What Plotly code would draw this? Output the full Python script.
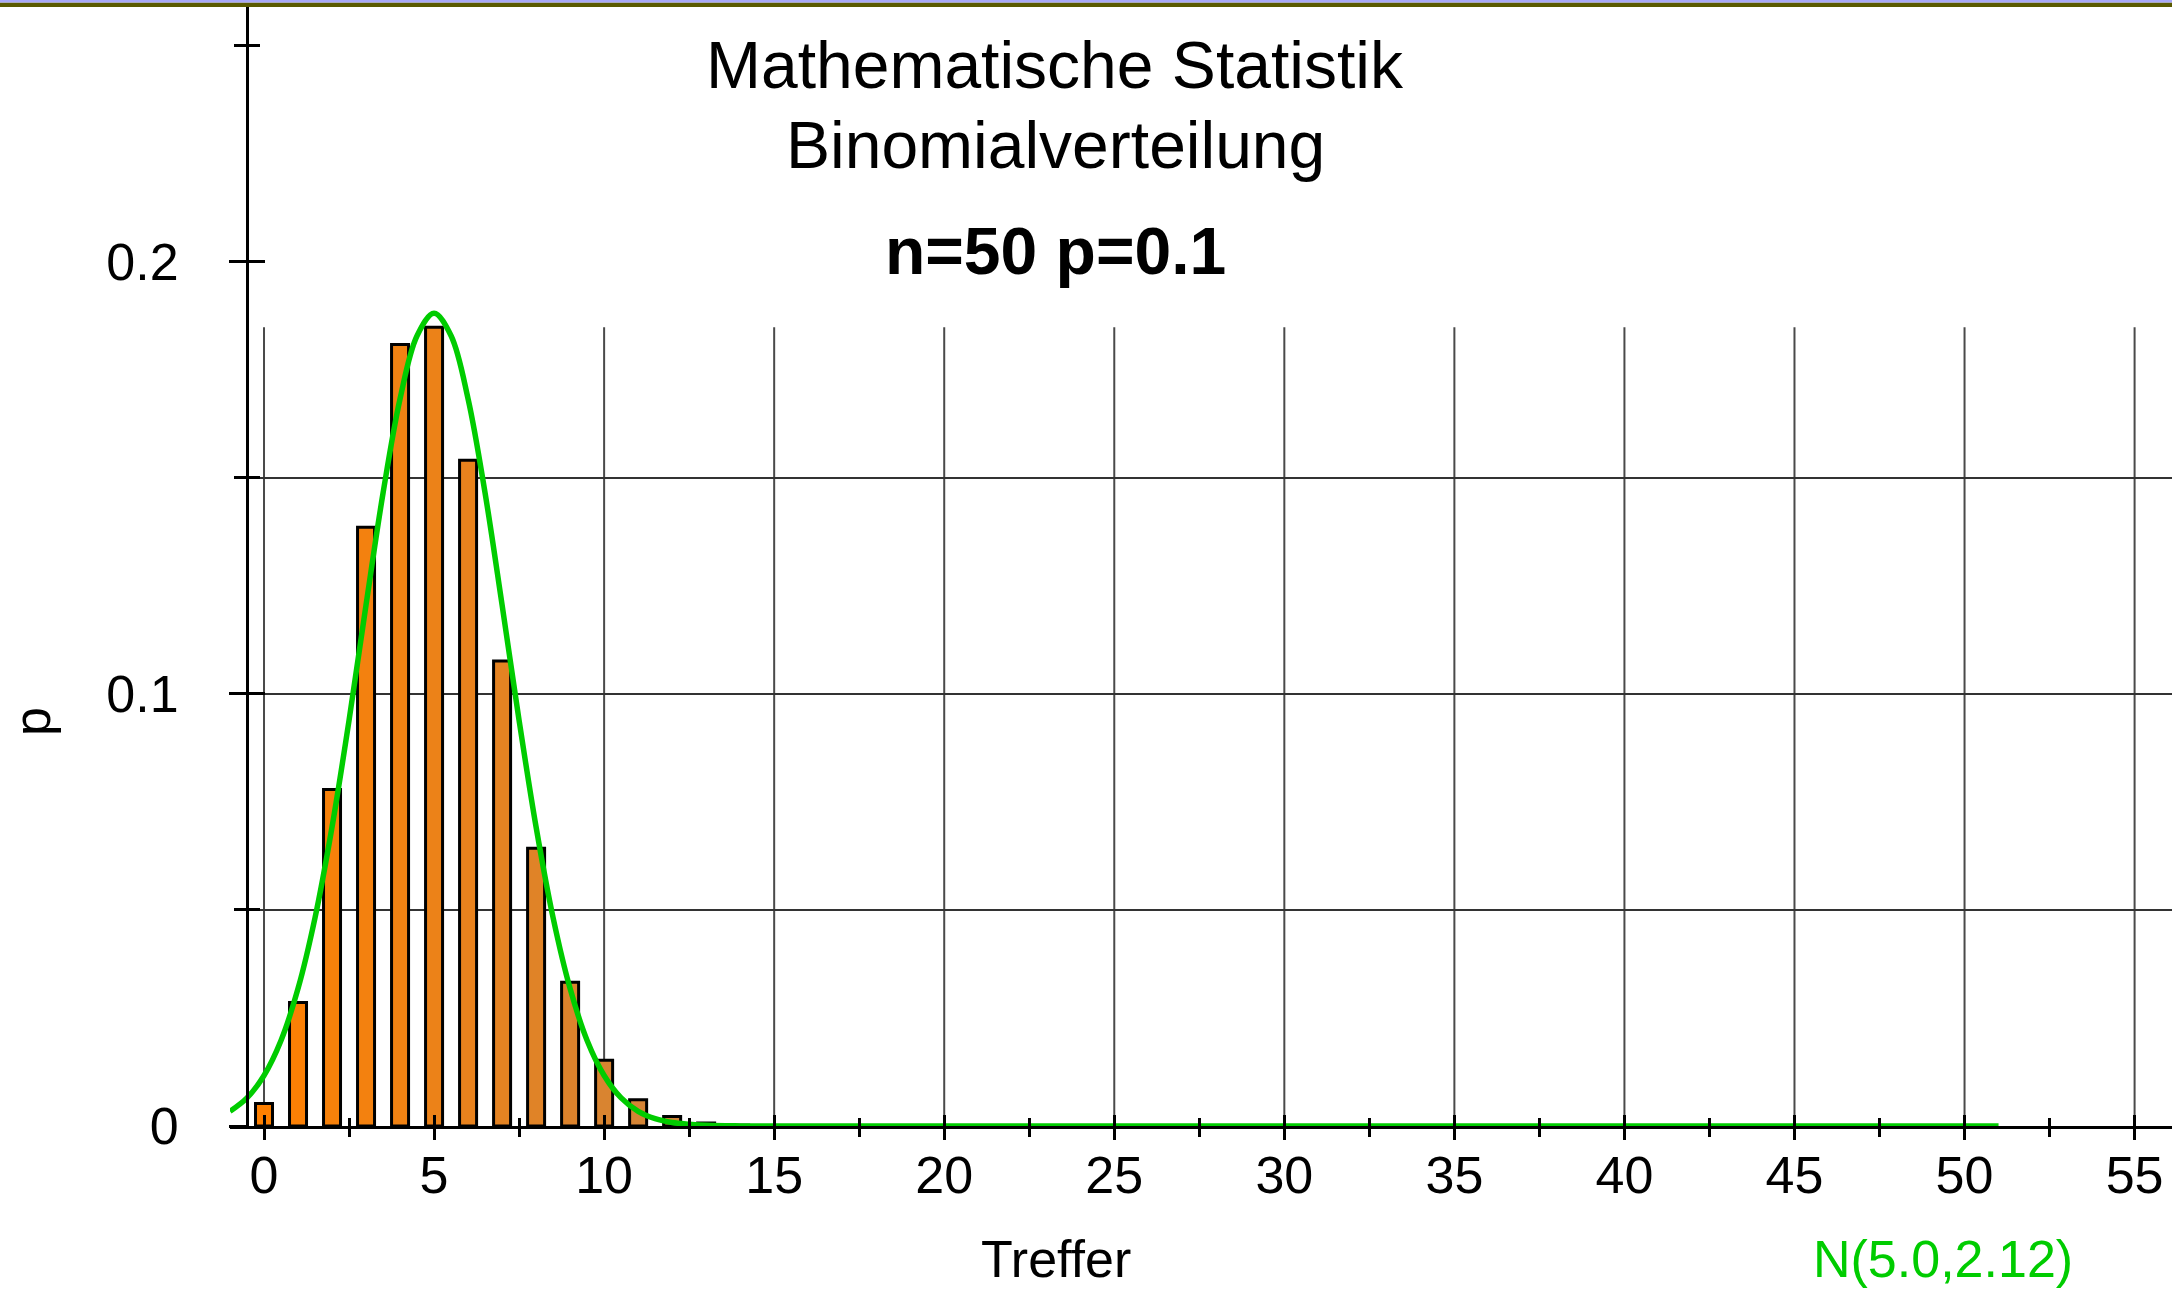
import plotly.graph_objects as go

# ---------------- data ----------------
treffer = list(range(0, 16))
wahrscheinlichkeit = [0.0052, 0.0286, 0.0779, 0.1386, 0.1809, 0.1849, 0.1541, 0.1076,
                      0.0643, 0.0333, 0.0152, 0.0061, 0.0022, 0.0007, 0.0002, 0.0001]

kurve_x = [-1, -0.5, 0, 0.5, 1, 1.5, 2, 2.5, 3, 3.5, 4, 4.5, 5, 5.5, 6, 6.5, 7, 7.5,
           8, 8.5, 9, 9.5, 10, 10.5, 11, 11.5, 12, 12.5, 13, 14, 15, 51]
kurve_y = [0.0034, 0.0065, 0.0117, 0.0198, 0.0318, 0.0482, 0.0692, 0.0939, 0.1206,
           0.1465, 0.1683, 0.1829, 0.1881, 0.1829, 0.1683, 0.1465, 0.1206, 0.0939,
           0.0692, 0.0482, 0.0318, 0.0198, 0.0117, 0.0065, 0.0034, 0.0017, 0.0008,
           0.0004, 0.00015, 0.00002, 0.0, 0.0]

x_tick_values = [0, 5, 10, 15, 20, 25, 30, 35, 40, 45, 50, 55]
x_tick_labels = ["0", "5", "10", "15", "20", "25", "30", "35", "40", "45", "50", "55"]
x_minor_values = [2.5, 7.5, 12.5, 17.5, 22.5, 27.5, 32.5, 37.5, 42.5, 47.5, 52.5]
y_tick_values = [0, 0.1, 0.2]
y_tick_labels = ["0", "0.1", "0.2"]
y_minor_values = [0.05, 0.15, 0.25]
y_grid_values = [0.05, 0.1, 0.15]

titel1 = "Mathematische Statistik"
titel2 = "Binomialverteilung"
titel3 = "n=50 p=0.1"
x_titel = "Treffer"
y_titel = "p"
legende = "N(5.0,2.12)"

# ---------------- style ----------------
W, H = 2172, 1291
ML, MR, MT, MB = 230, 0, 7, 165
XR = [-1, 56.1]
YR = [0, 0.259]
YAXIS_X = -0.5
FONT = "Liberation Sans, Arial, sans-serif"
GREEN = "#00CC00"

def bar_color(i, n=13):
    t = min(i / n, 1.0)
    c0 = (255, 128, 0)
    c1 = (205, 133, 63)
    r, g, b = (round(c0[j] + (c1[j] - c0[j]) * t) for j in range(3))
    return f"rgb({r},{g},{b})"

colors = [bar_color(i) for i in range(len(treffer))]

fig = go.Figure()
fig.add_trace(go.Bar(x=treffer, y=wahrscheinlichkeit, width=0.5,
                     marker=dict(color=colors, line=dict(color="black", width=3)),
                     showlegend=False, hoverinfo="skip"))
fig.add_trace(go.Scatter(x=kurve_x, y=kurve_y, mode="lines",
                         line=dict(color=GREEN, width=5.5, shape="spline", smoothing=1.0),
                         showlegend=False, hoverinfo="skip"))
# dummy trace for overlay axes (crossing ticks)
fig.add_trace(go.Scatter(x=[None], y=[None], xaxis="x2", yaxis="y2",
                         showlegend=False, hoverinfo="skip"))

plot_w = W - ML - MR
pos_y = (YAXIS_X - XR[0]) / (XR[1] - XR[0])

fig.update_layout(
    width=W, height=H,
    margin=dict(l=ML, r=MR, t=MT, b=MB, pad=0),
    paper_bgcolor="white", plot_bgcolor="white",
    font=dict(family=FONT, size=52, color="black"),
    xaxis=dict(range=XR, showgrid=False, zeroline=False, showline=True,
               linecolor="black", linewidth=3,
               tickmode="array", tickvals=x_tick_values, ticktext=x_tick_labels,
               ticks="outside", ticklen=11, tickwidth=3, tickcolor="black",
               ticklabelstandoff=-9,
               tickfont=dict(family=FONT, size=52, color="black"),
               minor=dict(tickmode="array", tickvals=x_minor_values, ticks="outside",
                          ticklen=8, tickwidth=3, tickcolor="black", showgrid=False)),
    yaxis=dict(range=YR, showgrid=False, zeroline=False, showline=True,
               linecolor="black", linewidth=3, anchor="free", position=pos_y,
               tickmode="array", tickvals=y_tick_values, ticktext=y_tick_labels,
               ticks="outside", ticklen=17, tickwidth=3, tickcolor="black",
               ticklabelstandoff=40,
               tickfont=dict(family=FONT, size=52, color="black"),
               minor=dict(tickmode="array", tickvals=y_minor_values, ticks="outside",
                          ticklen=12, tickwidth=3, tickcolor="black", showgrid=False)),
    xaxis2=dict(range=XR, overlaying="x", anchor="y2", showgrid=False, zeroline=False,
                showline=False, showticklabels=False,
                tickmode="array", tickvals=x_tick_values,
                ticks="inside", ticklen=11, tickwidth=3, tickcolor="black",
                minor=dict(tickmode="array", tickvals=x_minor_values, ticks="inside",
                           ticklen=8, tickwidth=3, tickcolor="black", showgrid=False)),
    yaxis2=dict(range=YR, overlaying="y", anchor="free", position=pos_y,
                showgrid=False, zeroline=False, showline=False, showticklabels=False,
                tickmode="array", tickvals=y_tick_values,
                ticks="inside", ticklen=17, tickwidth=3, tickcolor="black",
                minor=dict(tickmode="array", tickvals=y_minor_values, ticks="inside",
                           ticklen=12, tickwidth=3, tickcolor="black", showgrid=False)),
)

# grid (below the bars)
grid_top = max(wahrscheinlichkeit)
shapes = []
for xv in x_tick_values:
    shapes.append(dict(type="line", xref="x", yref="y", x0=xv, x1=xv, y0=0, y1=grid_top,
                       line=dict(color="#4a4a4a", width=2), layer="below"))
for yv in y_grid_values:
    shapes.append(dict(type="line", xref="x", yref="y", x0=YAXIS_X, x1=XR[1], y0=yv, y1=yv,
                       line=dict(color="#333333", width=2), layer="below"))

# top border band
plot_h = H - MT - MB
def py(p):
    return (H - MB - p) / plot_h
def px(p):
    return (p - ML) / plot_w
shapes.append(dict(type="rect", xref="paper", yref="paper", x0=px(0), x1=px(W),
                   y0=py(7), y1=py(2.5), fillcolor="#5a5a00", line=dict(width=0), layer="above"))
shapes.append(dict(type="rect", xref="paper", yref="paper", x0=px(0), x1=px(W),
                   y0=py(2.5), y1=py(0), fillcolor="#a8a8f8", line=dict(width=0), layer="above"))
fig.update_layout(shapes=shapes)

ann = []
ann.append(dict(text=titel1, x=px(1055), y=py(65), xref="paper", yref="paper",
                showarrow=False, xanchor="center", yanchor="middle",
                font=dict(family=FONT, size=66, color="black")))
ann.append(dict(text=titel2, x=px(1055), y=py(145), xref="paper", yref="paper",
                showarrow=False, xanchor="center", yanchor="middle",
                font=dict(family=FONT, size=66, color="black")))
ann.append(dict(text="<b>" + titel3 + "</b>", x=px(1055), y=py(251), xref="paper", yref="paper",
                showarrow=False, xanchor="center", yanchor="middle",
                font=dict(family=FONT, size=66, color="black")))
ann.append(dict(text=x_titel, x=px(1056), y=py(1259), xref="paper", yref="paper",
                showarrow=False, xanchor="center", yanchor="middle",
                font=dict(family=FONT, size=52, color="black")))
ann.append(dict(text=legende, x=px(1943), y=py(1259), xref="paper", yref="paper",
                showarrow=False, xanchor="center", yanchor="middle",
                font=dict(family=FONT, size=52, color=GREEN)))
ann.append(dict(text=y_titel, x=px(32), y=py(722), xref="paper", yref="paper",
                showarrow=False, xanchor="center", yanchor="middle", textangle=-90,
                font=dict(family=FONT, size=52, color="black")))
fig.update_layout(annotations=ann)

fig.write_html("out.html", config={"displayModeBar": False},
               post_script="document.body.style.margin='0px';document.body.style.overflow='hidden';")
